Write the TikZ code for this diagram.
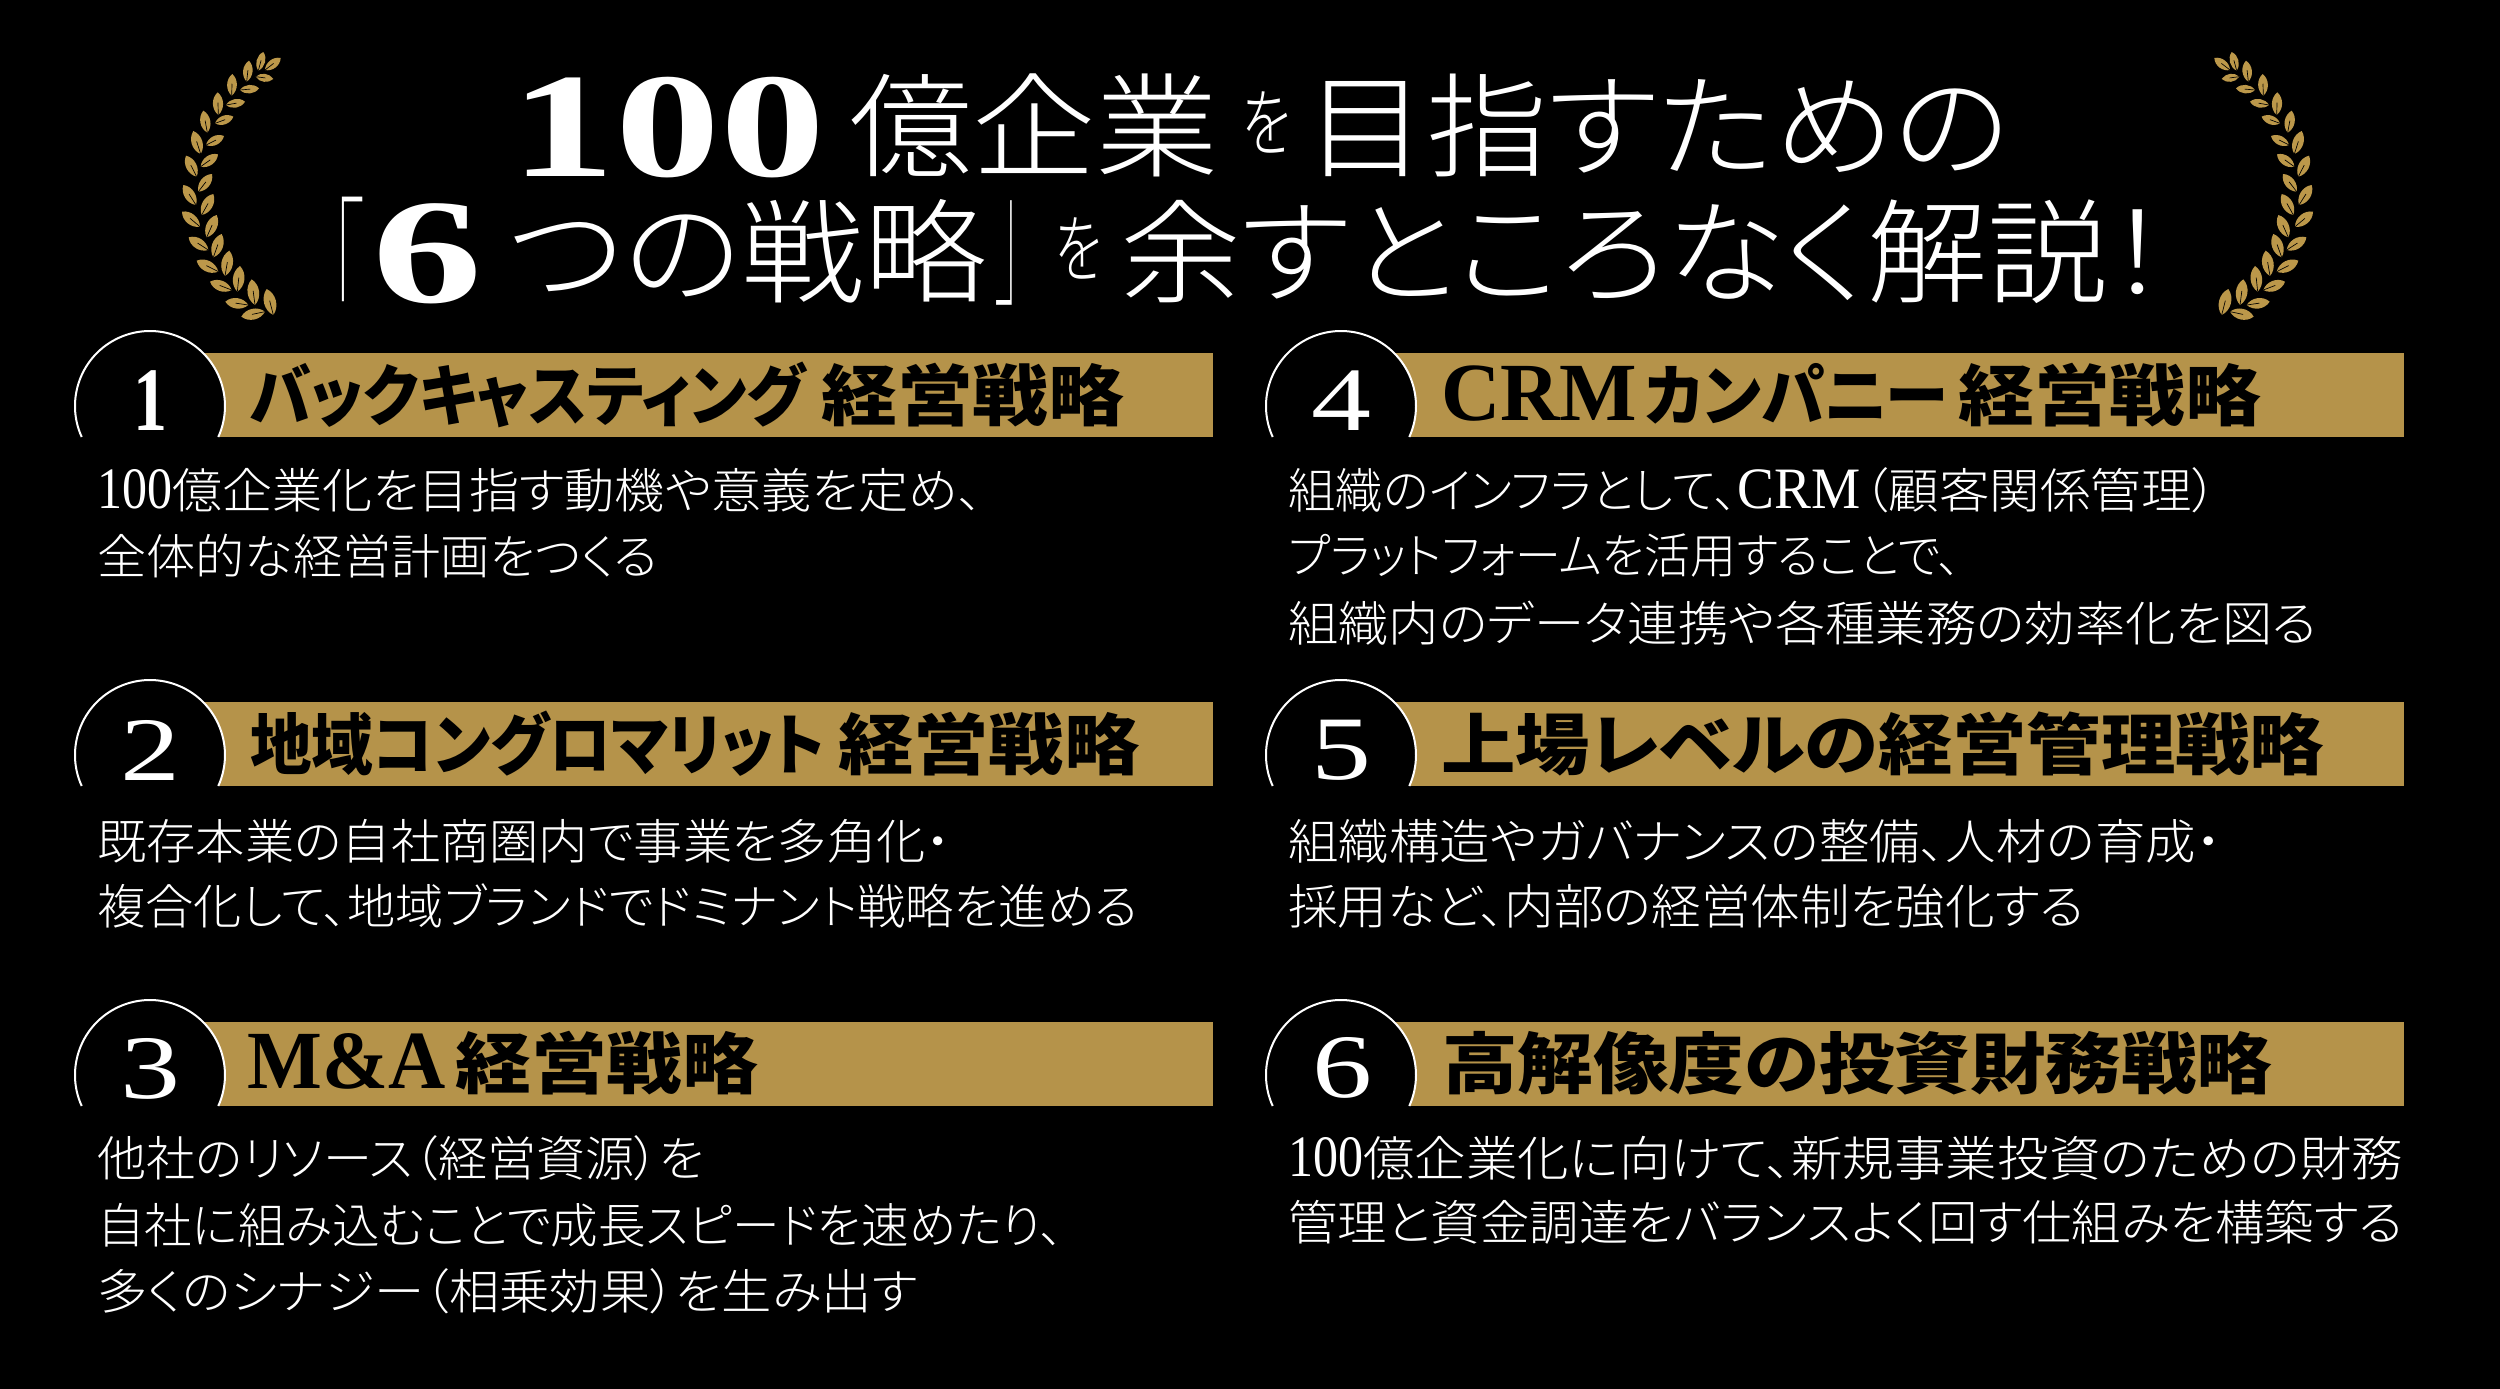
\documentclass[tikz,border=0pt]{standalone}
\usepackage{graphicx}
\usepackage{fontspec}
\usetikzlibrary{calc}
\setmainfont{Noto Sans CJK JP Light}[RawFeature={+palt},BoldFont={Noto Sans CJK JP Black}]
\newfontfamily\thincjk{Noto Sans CJK JP Thin}[RawFeature={+palt}]
\newfontfamily\latinserif{Liberation Serif}

\definecolor{bannergold}{RGB}{181,147,74}
\definecolor{leafgold}{RGB}{188,152,74}

\newcommand{\fitw}[2]{\resizebox{\dimexpr #1pt*3/4\relax}{\height}{#2}}
\newcommand{\gapw}[1]{\hspace{\dimexpr #1pt*3/4\relax}}
\newcommand{\bignum}[2]{\fitw{#1}{\fontsize{112}{112}\selectfont\latinserif\bfseries #2}}
\newcommand{\lifted}[2]{\raisebox{#1pt}{#2}}
\newcommand{\smallwo}[1]{\lifted{19}{\fitw{#1}{\fontsize{56}{56}\selectfont を}}}
\newcommand{\bracketch}[2]{\fitw{#1}{\fontsize{120}{120}\selectfont\thincjk #2}}
\newcommand{\headlat}[2]{\fitw{#1}{\fontsize{62}{62}\selectfont\latinserif #2}}
\newcommand{\bodylat}[2]{\fitw{#1}{\fontsize{44}{44}\selectfont\latinserif #2}}

\tikzset{
	titletext/.style={anchor=base west,inner sep=0pt,text=white,font=\fontsize{85}{85}\selectfont},
	headtext/.style={anchor=west,inner sep=0pt,text=black,font=\fontsize{50}{50}\selectfont\bfseries},
	bodytext/.style={anchor=west,inner sep=0pt,text=white,font=\fontsize{36}{36}\selectfont},
	badgenum/.style={inner sep=0pt,text=white,font=\fontsize{68}{68}\selectfont\latinserif},
	badgeline/.style={draw=white,fill=black,line width=1.5pt},
	leaf/.style={fill=leafgold,draw=none}}

\begin{document}
\begin{tikzpicture}[x=0.75pt,y=0.75pt,yscale=-1,xscale=1]
	\useasboundingbox (0,0) rectangle (2500,1389);
	\fill [black] (0,0) rectangle (2500,1389);

	%Shape: Rectangle (banners)
	\foreach \bx/\by in {150/353,150/702,150/1022,1341/353,1341/702,1341/1022}
		\fill [bannergold] (\bx,\by) rectangle (\bx+1063,\by+84);
	%Shape: Arc (number badges)
	\foreach \bx/\by in {150/437,150/786,150/1106,1341/437,1341/786,1341/1106}
		\draw [badgeline] (\bx-68.3,\by) arc [start angle=155.6,end angle=384.4,radius=75];

	%Shape: Laurel (left, then mirrored)
	\foreach \mirror/\xshift in {1/0,-1/2495}{
	\begin{scope}[shift={(\xshift,0)},xscale=\mirror]
	\begin{scope}[shift={(150,30)},scale=1/3]
		\foreach \bx/\by/\tx/\ty in {
			325/122/340/66,290/155/297/92,245/197/247/132,205/255/203/187,172/308/160/242,
			152/372/130/303,140/440/108/377,138/525/100/465,150/590/96/545,175/660/116/622,
			205/725/140/692,245/780/180/755,295/825/226/815,345/845/274/860,
			345/120/392/84,317/140/370/147,270/180/327/175,228/225/285/215,195/280/250/260,
			168/345/222/318,152/410/204/373,145/485/186/432,155/555/190/492,170/622/200/555,
			190/682/215/612,225/738/238/662,262/785/270/708,315/825/305/748,370/855/350/777}
		{
			\fill [leaf] (\bx,\by) to [bend left=50] (\tx,\ty) to [bend left=50] cycle;
			\draw [black,line width=0.5pt] (\bx,\by) -- ($(\bx,\by)!0.55!(\tx,\ty)$);
		}
	\end{scope}
	\end{scope}
	}

	% Text Node
	\node (titleA) [titletext] at (510,176) {\bignum{315}{100}\gapw{24}\lifted{6}{\fitw{370}{億企業}}\gapw{23}\smallwo{49}\gapw{14}\lifted{6}{\fitw{705}{目指すための}}};
	% Text Node
	\node (titleB) [titletext] at (330,302) {\lifted{-22}{\bracketch{34}{「}}\gapw{8}\bignum{110}{6}\gapw{26}\lifted{6}{\fitw{479}{つの戦略}}\gapw{8}\lifted{7.5}{\bracketch{26}{」}}\gapw{34}\smallwo{47}\gapw{18}\lifted{6}{\fitw{1048}{余すところなく解説！}}};

	% Text Node
	\node (numA) [badgenum] at (150,401) {\fitw{34}{\bfseries 1}};
	\node (numB) [badgenum] at (150,750) {\fitw{60}{2}};
	\node (numC) [badgenum] at (150,1069) {\fitw{60}{3}};
	\node (numD) [badgenum] at (1341,401) {\fitw{60}{4}};
	\node (numE) [badgenum] at (1341,750) {\fitw{60}{5}};
	\node (numF) [badgenum] at (1342,1068) {\fitw{60}{6}};

	% Text Node
	\node (headA) [headtext] at (250,395) {\fitw{555}{バックキャスティング}\gapw{16}\fitw{303}{経営戦略}};
	\node (headB) [headtext] at (250,744) {\fitw{575}{地域コングロマリット}\gapw{13}\fitw{301}{経営戦略}};
	\node (headC) [headtext] at (247,1063) {\headlat{198}{\bfseries M\&A}\gapw{10}\fitw{303}{経営戦略}};
	\node (headD) [headtext] at (1441,395) {\headlat{196}{\bfseries CRM}\gapw{8}\fitw{303}{カンパニー}\gapw{10}\fitw{303}{経営戦略}};
	\node (headE) [headtext] at (1441,744) {\fitw{883}{上場レベルの経営管理戦略}};
	\node (headF) [headtext] at (1442,1063) {\fitw{830}{高解像度の投資財務戦略}};

	% Text Node
	\node (bodyAa) [bodytext] at (97,490) {\bodylat{75}{100}\fitw{811}{億企業化を目指す動機や意義を定め、}};
	\node (bodyAb) [bodytext] at (97,556) {\fitw{561}{全体的な経営計画をつくる}};
	\node (bodyBa) [bodytext] at (97,841) {\fitw{853}{既存本業の自社商圏内で事業を多角化・}};
	\node (bodyBb) [bodytext] at (97,906) {\fitw{1041}{複合化して、地域ブランドでドミナント戦略を進める}};
	\node (bodyCa) [bodytext] at (97,1158) {\fitw{607}{他社のリソース（経営資源）を}};
	\node (bodyCb) [bodytext] at (97,1225) {\fitw{966}{自社に組み込むことで成長スピードを速めたり、}};
	\node (bodyCc) [bodytext] at (97,1291) {\fitw{820}{多くのシナジー（相乗効果）を生み出す}};
	\node (bodyDa) [bodytext] at (1288,490) {\fitw{449}{組織のインフラとして、}\bodylat{123}{CRM}\gapw{3}\fitw{354}{（顧客関係管理）}};
	\node (bodyDb) [bodytext] at (1288,556) {\fitw{673}{プラットフォームを活用することで、}};
	\node (bodyDc) [bodytext] at (1288,623) {\fitw{1029}{組織内のデータ連携や各種業務の効率化を図る}};
	\node (bodyEa) [bodytext] at (1288,841) {\fitw{933}{組織構造やガバナンスの整備、人材の育成・}};
	\node (bodyEb) [bodytext] at (1288,906) {\fitw{796}{採用など、内部の経営体制を強化する}};
	\node (bodyFa) [bodytext] at (1288,1158) {\bodylat{75}{100}\fitw{1040}{億企業化に向けて、新規事業投資のための財務}};
	\node (bodyFb) [bodytext] at (1288,1222) {\fitw{1115}{管理と資金調達をバランスよく回す仕組みを構築する}};
\end{tikzpicture}
\end{document}
